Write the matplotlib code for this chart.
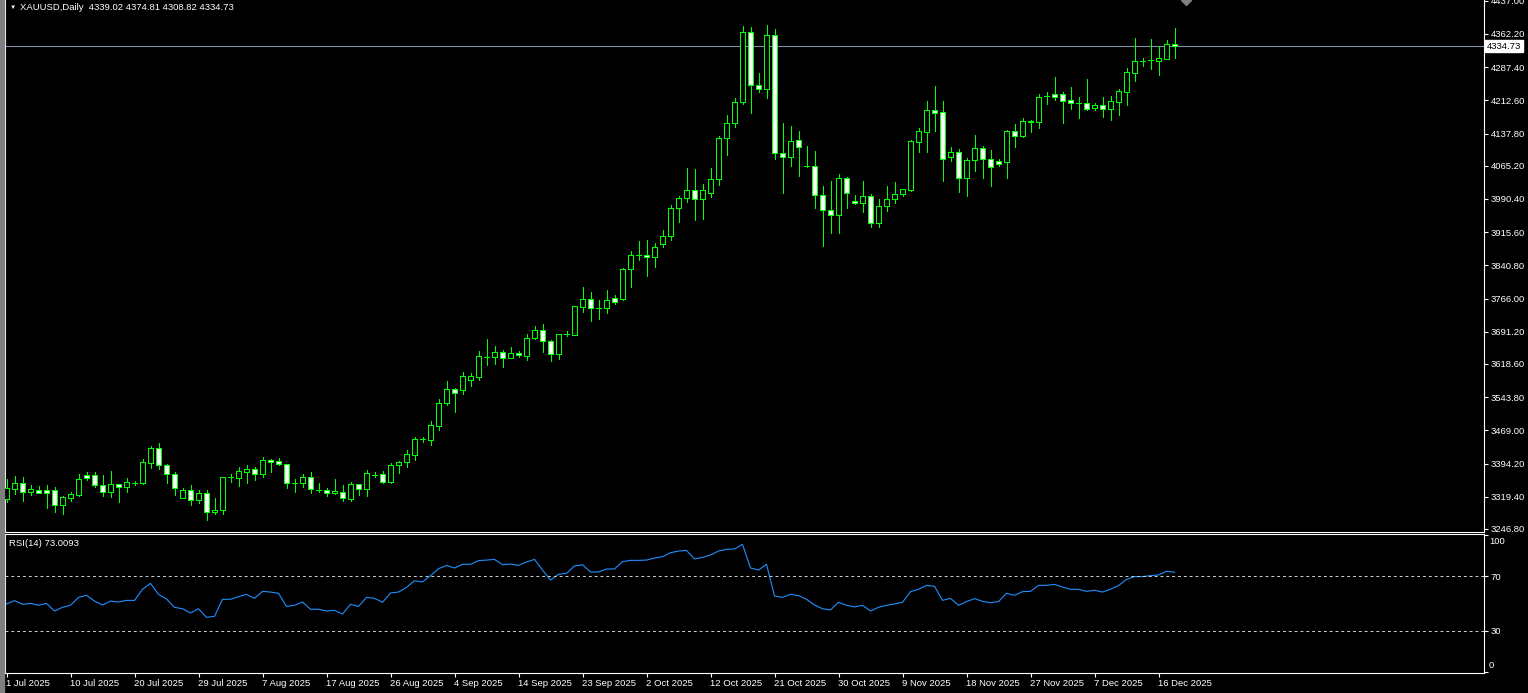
import numpy as np
import matplotlib.pyplot as plt
from matplotlib.patches import Rectangle
from matplotlib.transforms import blended_transform_factory

plt.rcParams['font.family'] = ['Liberation Sans', 'DejaVu Sans']

# Daily XAUUSD candles, 1 Jul 2025 .. 17 Dec 2025 (broker has Sunday bars)
opens = [3313.7, 3336.9, 3349.8, 3330.2, 3334.0, 3334.0, 3334.0, 3301.5, 3317.3, 3324.1,
         3367.8, 3367.8, 3345.3, 3330.8, 3347.5, 3340.8, 3350.4, 3349.8, 3396.2, 3428.6,
         3390.3, 3370.0, 3317.3, 3334.0, 3312.8, 3327.2, 3285.8, 3288.9, 3363.3, 3362.4,
         3376.0, 3382.8, 3370.0, 3401.6, 3399.3, 3392.6, 3351.1, 3349.8, 3364.0, 3335.3,
         3335.3, 3327.2, 3330.8, 3314.4, 3347.5, 3337.6, 3369.1, 3370.0, 3353.4, 3390.3,
         3397.0, 3414.1, 3449.6, 3448.0, 3478.2, 3530.0, 3561.6, 3560.0, 3582.4, 3590.0,
         3634.4, 3633.7, 3645.0, 3631.4, 3642.7, 3637.3, 3676.5, 3694.5, 3669.7, 3640.4,
         3685.5, 3684.0, 3747.7, 3764.4, 3744.1, 3744.1, 3766.6, 3765.7, 3832.0, 3863.5,
         3863.5, 3860.4, 3888.3, 3907.7, 3969.4, 3993.3, 4011.3, 3989.7, 4003.2, 4034.8,
         4127.2, 4161.0, 4208.3, 4366.0, 4246.6, 4237.6, 4359.3, 4093.4, 4085.7, 4122.7,
         4064.1, 4064.1, 3998.7, 3964.9, 3953.7, 4037.0, 3985.9, 3980.7, 3996.5, 3935.7,
         3973.9, 3989.7, 4001.0, 4010.7, 4119.5, 4142.0, 4190.3, 4185.8, 4085.7, 4095.6,
         4037.0, 4077.6, 4104.6, 4079.8, 4076.0, 4074.4, 4143.6, 4133.0, 4163.9, 4163.2,
         4222.5, 4227.0, 4227.0, 4213.5, 4206.0, 4206.7, 4196.1, 4201.5, 4193.9, 4209.6,
         4232.2, 4275.0, 4302.0, 4302.9, 4302.0, 4306.5, 4339.02]
highs = [3358.8, 3366.2, 3364.0, 3345.3, 3343.7, 3345.3, 3340.8, 3320.5, 3329.5, 3370.0,
         3374.6, 3374.6, 3367.8, 3376.8, 3347.5, 3361.0, 3354.9, 3403.8, 3433.8, 3439.9,
         3393.3, 3375.2, 3338.5, 3345.9, 3334.0, 3334.0, 3316.0, 3363.3, 3370.0, 3385.8,
         3390.3, 3385.8, 3408.4, 3404.5, 3406.0, 3393.3, 3358.8, 3370.0, 3375.2, 3349.8,
         3338.5, 3359.5, 3345.9, 3352.0, 3348.2, 3379.7, 3374.6, 3376.8, 3394.9, 3400.0,
         3424.1, 3454.1, 3454.1, 3490.2, 3539.7, 3580.3, 3563.9, 3600.6, 3598.3, 3647.9,
         3674.9, 3659.2, 3650.2, 3656.9, 3647.9, 3686.2, 3704.2, 3708.7, 3672.7, 3685.5,
         3693.0, 3750.0, 3792.1, 3780.8, 3762.8, 3785.3, 3773.4, 3834.2, 3872.5, 3895.8,
         3898.0, 3890.6, 3920.5, 3976.2, 3996.5, 4059.6, 4057.3, 4023.5, 4059.6, 4132.4,
         4179.0, 4217.3, 4380.2, 4377.3, 4273.6, 4382.5, 4372.8, 4161.0, 4154.9, 4143.6,
         4109.8, 4098.6, 4019.7, 4031.0, 4046.7, 4039.3, 3999.4, 4031.0, 4001.7, 3989.7,
         4019.7, 4028.0, 4012.2, 4123.3, 4149.7, 4211.2, 4245.0, 4211.2, 4106.9, 4102.4,
         4082.1, 4134.6, 4109.1, 4100.8, 4079.8, 4145.9, 4159.4, 4172.2, 4168.4, 4227.0,
         4231.5, 4266.0, 4232.2, 4242.8, 4220.2, 4261.5, 4206.0, 4220.9, 4222.5, 4237.6,
         4286.3, 4353.2, 4308.1, 4350.9, 4334.5, 4348.7, 4374.81]
lows = [3308.3, 3325.7, 3310.6, 3324.1, 3327.2, 3294.8, 3285.8, 3281.3, 3310.6, 3321.9,
        3357.2, 3340.8, 3320.5, 3319.6, 3308.3, 3330.8, 3345.3, 3347.5, 3383.6, 3381.3,
        3351.1, 3323.4, 3317.3, 3300.9, 3306.1, 3267.1, 3281.3, 3281.3, 3352.7, 3343.7,
        3349.8, 3357.2, 3364.6, 3375.2, 3390.3, 3339.8, 3330.8, 3342.1, 3328.6, 3330.8,
        3321.9, 3325.7, 3309.9, 3309.9, 3323.4, 3321.9, 3364.0, 3351.1, 3351.1, 3373.6,
        3385.8, 3403.1, 3442.1, 3436.7, 3470.5, 3526.9, 3511.1, 3551.0, 3569.0, 3582.5,
        3616.3, 3619.3, 3612.5, 3631.4, 3635.0, 3626.9, 3674.3, 3646.3, 3626.0, 3630.5,
        3681.0, 3684.0, 3736.4, 3716.2, 3720.7, 3734.2, 3754.5, 3762.8, 3792.8, 3852.9,
        3817.6, 3837.8, 3882.9, 3898.0, 3939.2, 3984.3, 3943.1, 3945.3, 3994.2, 4021.9,
        4089.5, 4153.3, 4203.8, 4184.8, 4232.2, 4218.7, 4079.8, 4003.2, 4065.4, 4042.9,
        4061.8, 3970.8, 3885.2, 3914.5, 3914.5, 3970.8, 3978.4, 3961.8, 3928.0, 3928.0,
        3964.0, 3982.1, 3997.2, 4009.1, 4097.0, 4097.0, 4143.6, 4031.6, 4076.7, 4006.8,
        3997.8, 4054.2, 4038.4, 4020.4, 4064.8, 4038.4, 4107.6, 4130.8, 4142.0, 4150.4,
        4204.5, 4213.5, 4162.3, 4193.2, 4172.9, 4190.9, 4190.9, 4175.8, 4168.4, 4179.7,
        4202.2, 4256.3, 4290.1, 4283.3, 4269.8, 4306.5, 4308.82]
closes = [3338.5, 3349.8, 3330.8, 3336.2, 3328.6, 3328.6, 3301.5, 3318.2, 3325.0, 3358.8,
          3362.4, 3345.3, 3330.8, 3347.5, 3340.8, 3352.0, 3350.4, 3397.0, 3428.6, 3390.3,
          3370.0, 3338.5, 3334.0, 3312.8, 3327.2, 3285.8, 3288.9, 3363.3, 3363.3, 3377.5,
          3382.8, 3370.0, 3401.6, 3397.0, 3392.6, 3349.8, 3351.1, 3363.3, 3336.2, 3335.3,
          3327.2, 3331.7, 3316.6, 3347.5, 3337.6, 3372.3, 3369.1, 3353.4, 3391.0, 3397.0,
          3415.0, 3449.6, 3449.6, 3480.5, 3530.0, 3561.6, 3552.6, 3591.6, 3591.6, 3636.6,
          3634.4, 3645.0, 3631.4, 3642.7, 3638.2, 3676.5, 3694.5, 3669.7, 3640.4, 3685.5,
          3685.5, 3748.6, 3764.4, 3744.1, 3744.1, 3762.1, 3759.0, 3832.0, 3863.5, 3863.5,
          3860.4, 3882.9, 3907.7, 3969.4, 3993.3, 4011.3, 3989.7, 4011.3, 4034.8, 4127.2,
          4161.0, 4208.3, 4366.0, 4246.6, 4237.6, 4359.3, 4093.4, 4085.7, 4120.4, 4108.2,
          4064.1, 3998.7, 3964.9, 3953.7, 4037.0, 4003.2, 3980.7, 3996.5, 3935.7, 3973.9,
          3989.7, 4001.0, 4012.2, 4121.1, 4143.6, 4190.3, 4184.8, 4079.8, 4095.6, 4037.0,
          4077.6, 4104.6, 4079.8, 4063.2, 4069.9, 4143.6, 4133.0, 4165.5, 4166.2, 4220.2,
          4222.5, 4220.9, 4211.9, 4206.0, 4206.0, 4193.9, 4201.5, 4193.9, 4211.2, 4233.7,
          4275.9, 4300.7, 4302.0, 4302.9, 4307.4, 4339.0, 4334.73]

# RSI(14), one value per bar
rsi = [49.8, 52.2, 49.5, 50.2, 48.8, 50.2, 44.6, 47.3, 48.8, 54.6,
       56.1, 51.9, 49.0, 51.9, 51.2, 52.4, 52.4, 60.5, 64.9, 56.8,
       53.4, 47.3, 46.3, 43.2, 46.3, 40.0, 40.7, 53.2, 53.2, 55.1,
       56.8, 53.9, 59.0, 58.5, 57.6, 48.0, 48.8, 51.2, 45.9, 45.9,
       44.6, 45.1, 42.4, 49.5, 48.0, 54.6, 53.9, 51.0, 57.8, 58.5,
       61.9, 66.8, 65.9, 70.5, 75.6, 78.0, 76.1, 78.8, 78.8, 81.5,
       81.9, 82.4, 78.5, 79.0, 78.0, 80.5, 82.4, 74.6, 67.3, 71.5,
       72.2, 77.6, 78.5, 73.2, 73.2, 75.4, 75.4, 80.7, 81.7, 81.7,
       81.9, 83.4, 84.4, 87.3, 88.5, 89.0, 82.7, 83.9, 85.6, 88.5,
       89.8, 90.0, 93.4, 76.1, 74.6, 78.8, 55.6, 54.6, 56.8, 55.9,
       53.2, 49.0, 46.3, 45.4, 51.0, 48.8, 47.6, 48.8, 44.6, 47.3,
       48.8, 49.8, 51.0, 58.8, 60.5, 63.4, 62.7, 52.4, 53.9, 48.8,
       51.5, 53.7, 51.7, 50.7, 51.5, 57.6, 56.1, 58.8, 59.0, 63.4,
       63.4, 64.1, 62.2, 60.5, 60.5, 59.0, 59.8, 58.5, 60.5, 63.2,
       67.8, 69.8, 69.8, 70.5, 71.0, 73.7, 73.0]

date_labels = ['1 Jul 2025', '10 Jul 2025', '20 Jul 2025', '29 Jul 2025', '7 Aug 2025',
               '17 Aug 2025', '26 Aug 2025', '4 Sep 2025', '14 Sep 2025', '23 Sep 2025',
               '2 Oct 2025', '12 Oct 2025', '21 Oct 2025', '30 Oct 2025', '9 Nov 2025',
               '18 Nov 2025', '27 Nov 2025', '7 Dec 2025', '16 Dec 2025']
price_ticks = [4437.00, 4362.20, 4287.40, 4212.60, 4137.80, 4065.20, 3990.40, 3915.60,
               3840.80, 3766.00, 3691.20, 3618.60, 3543.80, 3469.00, 3394.20, 3319.40, 3246.80]
last_price = 4334.73

W, H = 1528, 693
fs = 6.8
green = '#00ff00'

fig = plt.figure(figsize=(W / 100, H / 100), dpi=100, facecolor='black')
ax = fig.add_axes([5 / W, 1 - 532 / H, 1479 / W, 532 / H], facecolor='black')
ax_rsi = fig.add_axes([5 / W, 1 - 672.5 / H, 1479 / W, 138.5 / H], facecolor='black')

# gray window frame on the left
fig.patches.append(Rectangle((0, 0), 4 / W, 1, transform=fig.transFigure, color='#7f7f7f'))

o = np.array(opens)
h = np.array(highs)
l = np.array(lows)
c = np.array(closes)
x = np.arange(len(c))
up = c >= o

# candles: wicks first, bodies on top (bull black, bear white), 1 px lines
ax.vlines(x, l, h, color=green, lw=0.72, zorder=2, antialiased=False)
ax.bar(x[up], (c - o)[up], bottom=o[up], width=0.55, color='black', edgecolor=green,
       lw=0.72, zorder=3, antialiased=False)
ax.bar(x[~up], (o - c)[~up], bottom=c[~up], width=0.55, color='white', edgecolor=green,
       lw=0.72, zorder=3, antialiased=False)

ax.axhline(last_price, color='#8090a8', lw=0.8, zorder=1)

x_min = -1.5 / 8
x_max = (1484 - 6.5) / 8
ax.set_xlim(x_min, x_max)
ax.set_ylim(3240.0, 4438.8)

ax.yaxis.tick_right()
ax.set_yticks(price_ticks)
ax.set_yticklabels(['%.2f' % p for p in price_ticks])
ax.tick_params(axis='y', colors='white', labelsize=fs, length=3, width=0.8, pad=2)
ax.set_xticks([])
for s in ['left', 'right', 'bottom']:
    ax.spines[s].set_color('white')
    ax.spines[s].set_linewidth(0.8)
ax.spines['top'].set_visible(False)

# current price box
trans = blended_transform_factory(ax.transAxes, ax.transData)
ax.text(1.0018, last_price, '%.2f' % last_price, transform=trans, ha='left', va='center',
        fontsize=fs, color='black', zorder=5,
        bbox=dict(boxstyle='square,pad=0.18', fc='white', ec='white'))

# chart shift marker
ax.plot([(1186 - 6.5) / 8], [4438.8], marker='D', ms=5, color='#808080', clip_on=False, zorder=6)

fig.text(9.5 / W, 1 - 7.5 / H, '▼', color='white', fontsize=4.5, ha='left', va='center')
fig.text(20.5 / W, 1 - 7.5 / H, 'XAUUSD,Daily  %.2f %.2f %.2f %.2f' % (opens[-1], highs[-1], lows[-1], closes[-1]),
         color='white', fontsize=fs, ha='left', va='center')

# RSI window
ax_rsi.plot(x, rsi, color='#1e90ff', lw=0.8)
ax_rsi.axhline(70, color='#d0d0d0', lw=0.7, ls=(0, (3, 3)))
ax_rsi.axhline(30, color='#d0d0d0', lw=0.7, ls=(0, (3, 3)))
ax_rsi.set_xlim(x_min, x_max)
ax_rsi.set_ylim(-0.4, 101)
ax_rsi.yaxis.tick_right()
ax_rsi.set_yticks([100, 70, 30, 0])
ax_rsi.set_yticklabels(['', '70', '30', ''])
ax_rsi.tick_params(axis='y', colors='white', labelsize=fs, length=3, width=0.8, pad=2)
fig.text(1489 / W, 1 - 541 / H, '100', color='white', fontsize=fs, ha='left', va='center')
fig.text(1489 / W, 1 - 665 / H, '0', color='white', fontsize=fs, ha='left', va='center')

ax_rsi.set_xticks(np.arange(0, len(c), 8))
ax_rsi.set_xticklabels(date_labels, ha='left')
ax_rsi.tick_params(axis='x', colors='white', labelsize=fs, length=3, width=0.8, pad=2)
for s in ax_rsi.spines.values():
    s.set_color('white')
    s.set_linewidth(0.8)

fig.text(9 / W, 1 - 544 / H, 'RSI(14) %.4f' % 73.0093, color='white', fontsize=fs, ha='left', va='center')

fig.savefig('out.png', dpi=100, facecolor='black')
